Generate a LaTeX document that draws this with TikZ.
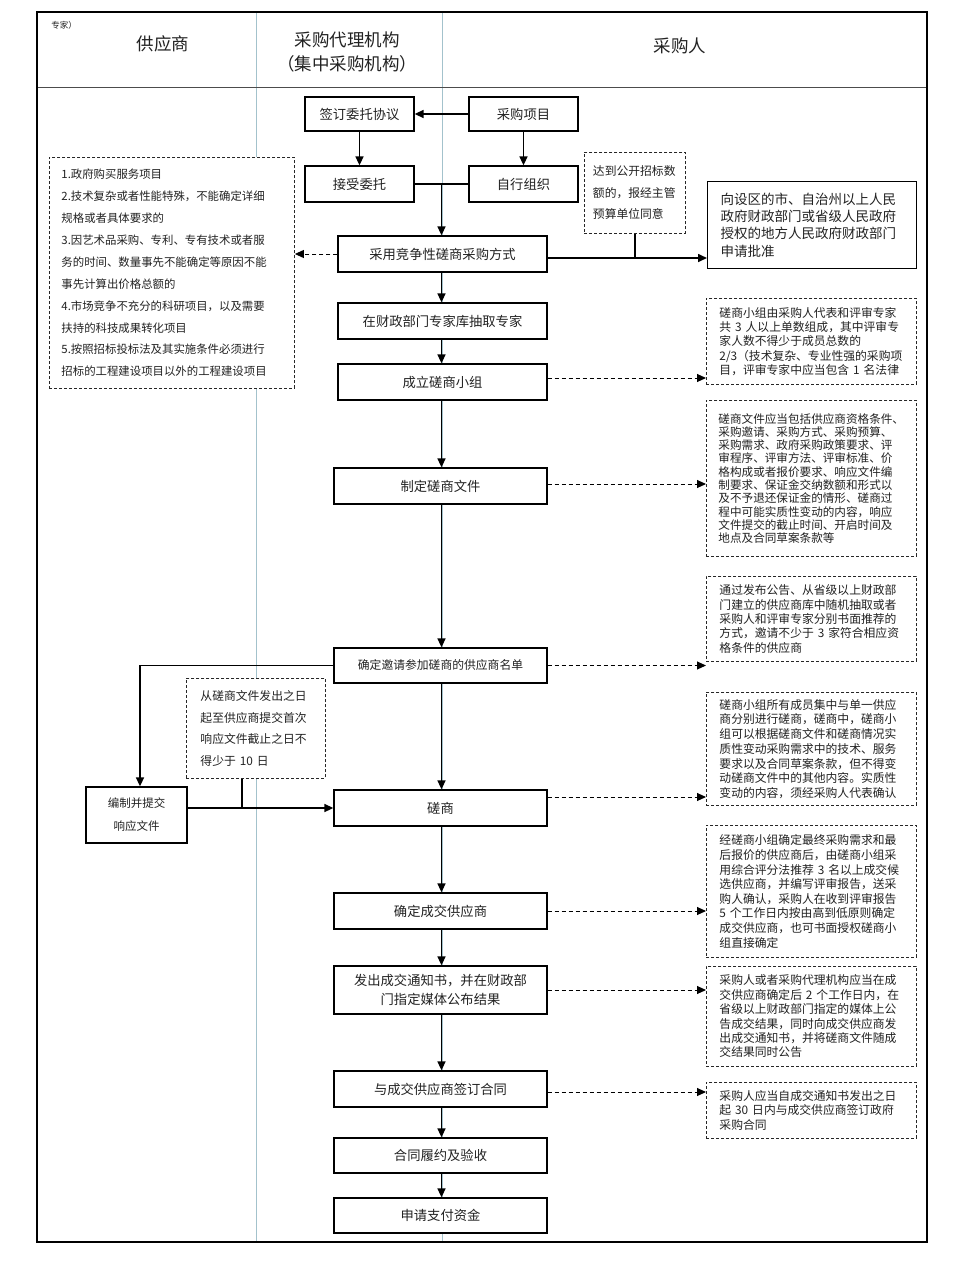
\documentclass[tikz,border=0pt]{standalone}
\usepackage{fontspec}
\setmainfont{Liberation Serif}
\newfontfamily\cjk{Noto Sans CJK SC}
\usetikzlibrary{arrows.meta}
\definecolor{colline}{HTML}{A3C2CC}
\definecolor{txt}{HTML}{222222}
\tikzset{
  flowbox/.style={draw=black, line width=1.3pt, fill=white, inner sep=0pt, align=center, text=txt,
    font=\cjk\fontsize{13.3}{17}\selectfont},
  notebox/.style={draw=black!85, dash pattern=on 3pt off 2pt, line width=0.9pt, fill=white,
    inner ysep=0pt, align=left, text=txt, anchor=north west},
  notefont/.style={font=\cjk\fontsize{11.8}{#1}\selectfont},
  arr/.style={line width=1.6pt, -{Triangle[length=9pt,width=8pt]}},
  darr/.style={line width=1pt, dash pattern=on 4pt off 3pt, -{Triangle[length=9pt,width=8pt]}},
  plain/.style={line width=1.5pt},
  headtxt/.style={font=\cjk\fontsize{17.5}{24}\selectfont, text=txt, align=center}
}
\begin{document}
\begin{tikzpicture}[x=1pt,y=-1pt]
\useasboundingbox (0,0) rectangle (964,1282);
\fill[white] (0,0) rectangle (964,1282);
% column lines
\draw[colline, line width=1pt] (256,12) -- (256,1242);
\draw[colline, line width=1pt] (442,12) -- (442,1242);
% frame
\draw[black!70, line width=1pt] (37,87) -- (927,87);
\draw[black, line width=2pt] (37,12) rectangle (927,1242);
% header
\node[font=\cjk\fontsize{8.5}{10}\selectfont, text=txt] (zj) at (64,25) {专家）};
\node[headtxt] (h1) at (163,44) {供应商};
\node[headtxt] (h2) at (347,52) {采购代理机构\\（集中采购机构）};
\node[headtxt] (h3) at (680,46) {采购人};
\coordinate (spine) at (441.5,0);
% flow boxes
\node[flowbox, minimum width=109pt, minimum height=34pt] (qd) at (359.5,114) {签订委托协议};
\node[flowbox, minimum width=109pt, minimum height=34pt] (xm) at (523.5,114) {采购项目};
\node[flowbox, minimum width=109pt, minimum height=36pt] (js) at (359.5,184) {接受委托};
\node[flowbox, minimum width=109pt, minimum height=36pt] (zx) at (523.5,184) {自行组织};
\node[flowbox, minimum width=209pt, minimum height=36pt] (cy) at (442.5,254) {采用竞争性磋商采购方式};
\node[flowbox, minimum width=209pt, minimum height=36pt] (cq) at (442.5,321) {在财政部门专家库抽取专家};
\node[flowbox, minimum width=209pt, minimum height=36pt] (cl) at (442.5,382) {成立磋商小组};
\node[flowbox, minimum width=213pt, minimum height=36pt] (zd) at (440.5,486) {制定磋商文件};
\node[flowbox, minimum width=213pt, minimum height=35pt, font=\cjk\fontsize{11.8}{15}\selectfont] (yq) at (440.5,665.5) {确定邀请参加磋商的供应商名单};
\node[flowbox, minimum width=213pt, minimum height=36pt] (cs) at (440.5,808) {磋商};
\node[flowbox, minimum width=213pt, minimum height=36pt] (cj) at (440.5,911) {确定成交供应商};
\node[flowbox, minimum width=213pt, minimum height=48pt, font=\cjk\fontsize{13.3}{19}\selectfont] (fc) at (440.5,990) {发出成交通知书，并在财政部\\门指定媒体公布结果};
\node[flowbox, minimum width=213pt, minimum height=36pt] (qy) at (440.5,1089) {与成交供应商签订合同};
\node[flowbox, minimum width=213pt, minimum height=35pt] (ht) at (440.5,1155.5) {合同履约及验收};
\node[flowbox, minimum width=213pt, minimum height=35pt] (sq) at (440.5,1215.5) {申请支付资金};
\node[flowbox, minimum width=101pt, minimum height=56pt, font=\cjk\fontsize{11.5}{23}\selectfont] (bz) at (136.5,815) {编制并提交\\响应文件};
\node[flowbox, minimum width=209pt, minimum height=87pt, anchor=north west, align=left, inner xsep=13pt, text width=183pt, font=\cjk\fontsize{13.5}{17.3}\selectfont] (xs) at (707,181) {向设区的市、自治州以上人民\\政府财政部门或省级人民政府\\授权的地方人民政府财政部门\\申请批准};
% note boxes
\node[notebox, inner xsep=12pt, text width=221pt, minimum width=245pt, minimum height=231pt, font=\cjk\fontsize{11.4}{21.9}\selectfont] (lb) at (49,157) {1.政府购买服务项目\\2.技术复杂或者性能特殊，不能确定详细\\规格或者具体要求的\\3.因艺术品采购、专利、专有技术或者服\\务的时间、数量事先不能确定等原因不能\\事先计算出价格总额的\\4.市场竞争不充分的科研项目，以及需要\\扶持的科技成果转化项目\\5.按照招标投标法及其实施条件必须进行\\招标的工程建设项目以外的工程建设项目};
\node[notebox, notefont=21.5, inner xsep=8.5pt, text width=84pt, minimum width=101pt, minimum height=81pt] (dd) at (584,152) {达到公开招标数\\额的，报经主管\\预算单位同意};
\node[notebox, notefont=21.5, inner xsep=14pt, text width=111pt, minimum width=139pt, minimum height=100pt] (td) at (186,678) {从磋商文件发出之日\\起至供应商提交首次\\响应文件截止之日不\\得少于 10 日};
\node[notebox, notefont=14.3, inner xsep=13pt, text width=184pt, minimum width=210pt, minimum height=86pt] (n1) at (706,298) {磋商小组由采购人代表和评审专家\\共 3 人以上单数组成，其中评审专\\家人数不得少于成员总数的\\2/3（技术复杂、专业性强的采购项\\目，评审专家中应当包含 1 名法律};
\node[notebox, inner xsep=12pt, text width=186pt, minimum width=210pt, minimum height=156pt, font=\cjk\fontsize{11.6}{13.3}\selectfont] (n2) at (706,400) {磋商文件应当包括供应商资格条件、\\采购邀请、采购方式、采购预算、\\采购需求、政府采购政策要求、评\\审程序、评审方法、评审标准、价\\格构成或者报价要求、响应文件编\\制要求、保证金交纳数额和形式以\\及不予退还保证金的情形、磋商过\\程中可能实质性变动的内容，响应\\文件提交的截止时间、开启时间及\\地点及合同草案条款等};
\node[notebox, notefont=14.4, inner xsep=13pt, text width=184pt, minimum width=210pt, minimum height=85pt] (n3) at (706,576) {通过发布公告、从省级以上财政部\\门建立的供应商库中随机抽取或者\\采购人和评审专家分别书面推荐的\\方式，邀请不少于 3 家符合相应资\\格条件的供应商};
\node[notebox, notefont=14.7, inner xsep=13pt, text width=184pt, minimum width=210pt, minimum height=113pt] (n4) at (706,692) {磋商小组所有成员集中与单一供应\\商分别进行磋商，磋商中，磋商小\\组可以根据磋商文件和磋商情况实\\质性变动采购需求中的技术、服务\\要求以及合同草案条款，但不得变\\动磋商文件中的其他内容。实质性\\变动的内容，须经采购人代表确认};
\node[notebox, notefont=14.6, inner xsep=13pt, text width=184pt, minimum width=210pt, minimum height=132pt] (n5) at (706,825) {经磋商小组确定最终采购需求和最\\后报价的供应商后，由磋商小组采\\用综合评分法推荐 3 名以上成交候\\选供应商，并编写评审报告，送采\\购人确认，采购人在收到评审报告\\5 个工作日内按由高到低原则确定\\成交供应商，也可书面授权磋商小\\组直接确定};
\node[notebox, notefont=14.4, inner xsep=13pt, text width=184pt, minimum width=210pt, minimum height=100pt] (n6) at (706,966) {采购人或者采购代理机构应当在成\\交供应商确定后 2 个工作日内，在\\省级以上财政部门指定的媒体上公\\告成交结果，同时向成交供应商发\\出成交通知书，并将磋商文件随成\\交结果同时公告};
\node[notebox, notefont=14.5, inner xsep=13pt, text width=184pt, minimum width=210pt, minimum height=56pt] (n7) at (706,1082) {采购人应当自成交通知书发出之日\\起 30 日内与成交供应商签订政府\\采购合同};
% top connectors
\draw[arr] (xm.west) -- (qd.east);
\draw[arr] (qd.south) -- (js.north);
\draw[arr] (xm.south) -- (zx.north);
\draw[plain] (js.east) -- (zx.west);
\draw[arr] (js.east -| spine) -- (cy.north -| spine);
\draw[darr] (cy.west) -- (cy.west -| lb.east);
\coordinate (m) at ([yshift=-4pt]cy.east);
\draw[arr] (m) -- (m -| xs.west);
\draw[plain, line width=1.2pt] (dd.south) -- (dd.south |- m);
% main spine
\draw[arr] (cy.south -| spine) -- (cq.north -| spine);
\draw[arr] (cq.south -| spine) -- (cl.north -| spine);
\draw[arr] (cl.south -| spine) -- (zd.north -| spine);
\draw[arr] (zd.south -| spine) -- (yq.north -| spine);
\draw[arr] (yq.south -| spine) -- (cs.north -| spine);
\draw[arr] (cs.south -| spine) -- (cj.north -| spine);
\draw[arr] (cj.south -| spine) -- (fc.north -| spine);
\draw[arr] (fc.south -| spine) -- (qy.north -| spine);
\draw[arr] (qy.south -| spine) -- (ht.north -| spine);
\draw[arr] (ht.south -| spine) -- (sq.north -| spine);
% dashed notes
\draw[darr] ([yshift=4pt]cl.east) -- ([yshift=4pt]cl.east -| n1.west);
\draw[darr] ([yshift=2pt]zd.east) -- ([yshift=2pt]zd.east -| n2.west);
\draw[darr] (yq.east) -- (yq.east -| n3.west);
\draw[darr] ([yshift=11pt]cs.east) -- ([yshift=11pt]cs.east -| n4.west);
\draw[darr] (cj.east) -- (cj.east -| n5.west);
\draw[darr] (fc.east) -- (fc.east -| n6.west);
\draw[darr] ([yshift=-3pt]qy.east) -- ([yshift=-3pt]qy.east -| n7.west);
% supplier branch
\coordinate (bx) at (140,0);
\coordinate (tx) at (242,0);
\draw[arr] (yq.west) -- (yq.west -| bx) -- (bz.north -| bx);
\draw[arr] (bz.east |- cs.west) -- (cs.west);
\draw[plain, line width=1.2pt] (td.south -| tx) -- (cs.west -| tx);
\end{tikzpicture}
\end{document}
